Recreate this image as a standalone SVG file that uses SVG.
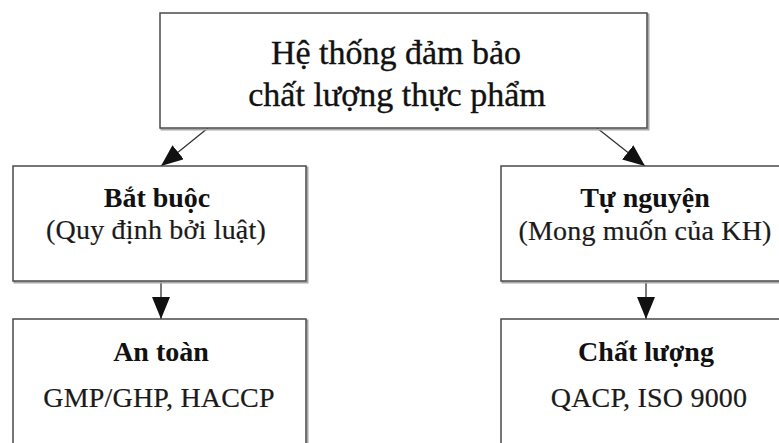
<svg xmlns="http://www.w3.org/2000/svg" width="779" height="443" viewBox="0 0 779 443">
  <style>
    .shadow { fill: none; stroke: #a8a8a8; stroke-width: 2; }
    .box { fill: #ffffff; stroke: #4a4a4a; stroke-width: 1.5; }
    text { font-family: "Liberation Serif", "Times New Roman", Times, serif; text-anchor: middle; }
    .title { font-size: 34px; fill: #111; stroke: #111; stroke-width: 0.35; }
    .head { font-size: 28px; font-weight: bold; fill: #111; }
    .sub { font-size: 28px; fill: #1a1a1a; stroke: #1a1a1a; stroke-width: 0.2; letter-spacing: 0.2px; }
    .link { fill: none; stroke: #333; stroke-width: 1.3; }
  </style>
  <defs>
    <marker id="arrow" markerUnits="userSpaceOnUse" markerWidth="24" markerHeight="20" refX="22" refY="9" orient="auto">
      <path d="M0,0 L22,9 L0,18 z" fill="#111"/>
    </marker>
  </defs>
  <rect width="779" height="443" fill="#ffffff"/>

  <g id="connectors">
    <line class="link" x1="208" y1="128" x2="161" y2="166" marker-end="url(#arrow)"/>
    <line class="link" x1="597" y1="128" x2="645" y2="166" marker-end="url(#arrow)"/>
    <line class="link" x1="161" y1="281" x2="161" y2="319" marker-end="url(#arrow)"/>
    <line class="link" x1="646" y1="281" x2="646" y2="319" marker-end="url(#arrow)"/>
  </g>

  <g id="node-root">
    <rect class="shadow" x="161.5" y="14.5" width="487" height="115"/>
    <rect class="box" x="160" y="13" width="487" height="115"/>
    <text class="title" x="396" y="64">Hệ thống đảm bảo</text>
    <text class="title" x="397" y="106">chất lượng thực phẩm</text>
  </g>

  <g id="node-mandatory">
    <rect class="shadow" x="14.5" y="167.5" width="293" height="115"/>
    <rect class="box" x="13" y="166" width="293" height="115"/>
    <text class="head" x="157" y="207">Bắt buộc</text>
    <text class="sub" x="156" y="239">(Quy định bởi luật)</text>
  </g>

  <g id="node-voluntary">
    <rect class="shadow" x="502.5" y="167.5" width="300" height="115"/>
    <rect class="box" x="501" y="166" width="300" height="115"/>
    <text class="head" x="645" y="207">Tự nguyện</text>
    <text class="sub" x="645" y="240">(Mong muốn của KH)</text>
  </g>

  <g id="node-safety">
    <rect class="shadow" x="14.5" y="320.5" width="293" height="140"/>
    <rect class="box" x="13" y="319" width="293" height="140"/>
    <text class="head" x="161" y="361">An toàn</text>
    <text class="sub" x="159" y="407">GMP/GHP, HACCP</text>
  </g>

  <g id="node-quality">
    <rect class="shadow" x="502.5" y="320.5" width="300" height="140"/>
    <rect class="box" x="501" y="319" width="300" height="140"/>
    <text class="head" x="646" y="361">Chất lượng</text>
    <text class="sub" x="649" y="407">QACP, ISO 9000</text>
  </g>
</svg>
